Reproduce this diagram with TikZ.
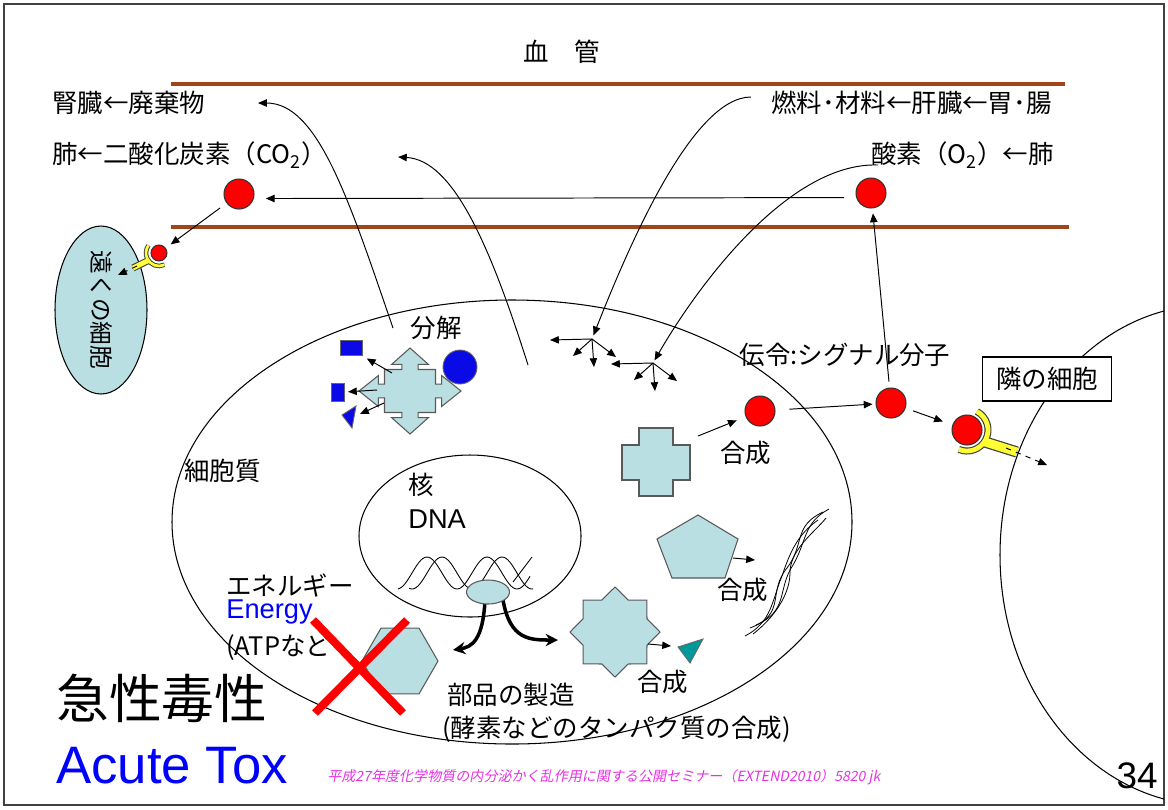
\documentclass[tikz,border=0pt]{standalone}
\usepackage{fontspec}
\setmainfont{Liberation Sans}
\newfontfamily\jp{Noto Sans CJK JP}
\newfontfamily\jpslant[FakeSlant=0.2]{Noto Sans CJK JP}
\usetikzlibrary{positioning,calc,arrows.meta,shapes.geometric}
\definecolor{vessel}{HTML}{A0441A}
\definecolor{cyto}{HTML}{B9DFE3}
\definecolor{molred}{HTML}{FF0000}
\definecolor{fragblue}{HTML}{0A0AE6}
\definecolor{enz}{HTML}{009999}
\definecolor{recep}{HTML}{FFFF33}
\definecolor{note}{HTML}{E632E6}

\begin{document}
\begin{tikzpicture}[x=0.02cm, y=-0.02cm,
  font=\jp\fontsize{14.5}{17}\selectfont,
  lbl/.style={inner sep=0pt},
  mol/.style={circle, draw=black!80, fill=molred, inner sep=0pt, minimum size=0.6cm, line width=0.6pt},
  arr/.style={-{Triangle[length=5pt,width=4.2pt]}, line width=0.55pt},
  part/.style={draw=black!65, fill=cyto, line width=0.6pt, inner sep=0pt},
  bits/.style={draw=black!60, fill=fragblue, line width=0.5pt, inner sep=0pt},
  wall/.style={draw=vessel, line width=2.4pt},
  bigarr/.style={-{Stealth[length=7pt,width=7pt]}, line width=2pt},
  killmark/.style={draw=molred, line width=4.6pt}]
  \useasboundingbox (0,0) rectangle (1168,809);
  \draw[black!75, line width=1.2pt] (4,4) rectangle (1164,805);

  % neighbour cell, cut at the slide edge
  \begin{scope}
    \clip (4,4) rectangle (1164,805);
    \draw[line width=0.6pt] (1210,555) ellipse [x radius=210, y radius=250];
  \end{scope}

  % blood vessel
  \draw[wall] (171,84) -- (1065,84);
  \draw[wall] (171,227) -- (1069,227);
  \node[lbl] (vesname) at (562,52) {血　管};
  \node[lbl, anchor=west] (kidney) at (52,103) {腎臓←廃棄物};
  \node[lbl, anchor=west] (lung) at (52,155) {肺←二酸化炭素（CO\textsubscript{2}）};
  \node[lbl, anchor=east] (fuel) at (1052,103) {燃料･材料←肝臓←胃･腸};
  \node[lbl, anchor=east] (oxy) at (1054,155) {酸素（O\textsubscript{2}）←肺};
  \node[mol] (co2) at (239,194) {};
  \node[mol] (o2) at (871,193) {};
  \draw[arr, shorten <=0.24cm, shorten >=0.24cm] (o2.197) -- (co2.-17);

  % far cell with its receptor
  \node[ellipse, draw, fill=cyto, line width=0.6pt, minimum width=1.84cm, minimum height=3.36cm, inner sep=0pt] (farcell) at (101,310) {};
  \node[lbl, rotate=-90, font=\jp\fontsize{13.5}{16}\selectfont] (farname) at (farcell) {遠くの細胞};
  \node[mol, minimum size=0.32cm] (farmol) at (159,253) {};
  \draw[arr, shorten <=0.16cm, shorten >=0.12cm] (co2) -- (farmol);
  \foreach \c/\ws/\wc in {black!75/4pt/2.6pt, recep/2.8pt/1.5pt} {
    \draw[\c, line width=\ws] ($(farmol)+(145:13)$) -- (133,268);
    \draw[\c, line width=\wc] ($(farmol)+(65:13)$) arc[start angle=65, end angle=216, radius=13];
  }
  \coordinate (farin) at (118,275);
  \draw[arr, dashed] (137,266) -- (farin);

  % the cell and its nucleus
  \draw[line width=0.6pt] (512,522) ellipse [x radius=340, y radius=222];
  \draw[line width=0.6pt] (470,536) ellipse [x radius=111, y radius=81];
  \node[lbl, anchor=west] (cytoname) at (184,471) {細胞質};
  \node[lbl, anchor=west] (nucname) at (408,485) {核};
  \node[lbl, anchor=west] (dnaname) at (408,519) {\rmfamily\fontsize{15.5}{18}\selectfont DNA};

  % breakdown
  \coordinate (decomp) at (410,391);
  \begin{scope}[shift={(decomp)}, xscale=51, yscale=43]
    \draw[part] (0,1) -- (0.36,0.62) -- (0.16,0.62) -- (0.16,0.5) -- (0.5,0.5) -- (0.5,0.16)
      -- (0.62,0.16) -- (0.62,0.36) -- (1,0) -- (0.62,-0.36) -- (0.62,-0.16) -- (0.5,-0.16)
      -- (0.5,-0.5) -- (0.16,-0.5) -- (0.16,-0.62) -- (0.36,-0.62) -- (0,-1) -- (-0.36,-0.62)
      -- (-0.16,-0.62) -- (-0.16,-0.5) -- (-0.5,-0.5) -- (-0.5,-0.16) -- (-0.62,-0.16)
      -- (-0.62,-0.36) -- (-1,0) -- (-0.62,0.36) -- (-0.62,0.16) -- (-0.5,0.16) -- (-0.5,0.5)
      -- (-0.16,0.5) -- (-0.16,0.62) -- (-0.36,0.62) -- cycle;
  \end{scope}
  \node[bits, circle, minimum size=0.68cm] (fragball) at (460,367) {};
  \node[bits, rectangle, minimum width=0.44cm, minimum height=0.3cm] (fragsq) at (351,348) {};
  \node[bits, rectangle, minimum width=0.26cm, minimum height=0.36cm] (fragbar) at (338,392) {};
  \draw[bits] (342,415) -- (356,406) -- (352,428) -- cycle;
  \coordinate (fragtri) at (354,412);
  \draw[arr, shorten >=0.1cm] ($(decomp)+(-18,-18)$) -- (fragsq.south east);
  \draw[arr, shorten >=0.06cm] ($(decomp)+(-33,-1)$) -- (fragbar.east);
  \draw[arr] ($(decomp)+(-26,12)$) -- ($(fragtri)+(6,2)$);
  \node[lbl] (splitname) at (436,328) {分解};

  % waste and CO2 leave through the vessel, fuel and O2 come in
  \coordinate (wasteto) at (258,103);
  \coordinate (co2to) at (398,157);
  \coordinate (spray1) at (592,339);
  \coordinate (spray2) at (653,363);
  \draw[arr] (393,328) .. controls (349,200) and (318,103) .. (wasteto);
  \draw[arr] (528,365) .. controls (490,245) and (453,160) .. (co2to);
  \draw[arr, shorten >=0.08cm] (751,97) .. controls (692,97) and (628,248) .. (spray1);
  \draw[arr, shorten >=0.06cm] (878,165) .. controls (790,162) and (700,282) .. (spray2);
  \foreach \s in {spray1, spray2}
    \foreach \dx/\dy in {-42/1, -19/17, 2/28, 24/18}
      \draw[arr] (\s) -- ++(\dx,\dy);

  % signal molecule
  \coordinate (plusc) at (656,462);
  \draw[part] ($(plusc)+(-17,-34)$) -- ++(34,0) -- ++(0,17) -- ++(17,0) -- ++(0,35) -- ++(-17,0)
    -- ++(0,16) -- ++(-34,0) -- ++(0,-16) -- ++(-17,0) -- ++(0,-35) -- ++(17,0) -- cycle;
  \node[mol] (made) at (760,411) {};
  \node[mol] (sig) at (891,403) {};
  \node[mol] (bound) at (967,430) {};
  \draw[arr, shorten >=0.19cm] ($(plusc)+(42,-26)$) -- (made);
  \node[lbl, anchor=west] (make1) at (720,453) {合成};
  \node[lbl] (signame) at (845,355) {伝令:シグナル分子};
  \draw[arr, shorten <=0.28cm, shorten >=0.06cm] (made) -- (sig);
  \draw[arr, shorten <=0.12cm, shorten >=0.1cm] (sig) -- (o2);
  \draw[arr, shorten <=0.16cm, shorten >=0.2cm] (sig) -- (bound);
  \foreach \c/\ws/\wc in {black!75/6.4pt/4pt, recep/5pt/2.7pt} {
    \draw[\c, line width=\ws] ($(bound)+(35:20)$) -- (1017,452);
    \draw[\c, line width=\wc] ($(bound)+(-62:21)$) arc[start angle=-62, end angle=113, radius=21];
  }
  \coordinate (nbrin) at (1047,465);
  \draw[arr, dashed] (1006,448) -- (nbrin);
  \node[draw, fill=white, line width=0.6pt, minimum width=2.58cm, minimum height=0.88cm] (nbr) at (1047,379) {隣の細胞};

  % structural protein
  \draw[part] (698,515) -- (738,539) -- (725,578) -- (672,578) -- (657,539) -- cycle;
  \draw[arr] (733,558) -- (755,560);
  \node[lbl, anchor=west] (make2) at (717,590) {合成};
  \foreach \dx/\dy/\m in {0/0/0, 5/-8/10, 8/-2/-9, 11/-11/6} {
    \begin{scope}[shift={(\dx,\dy)}]
      \draw[line width=0.45pt] (745,636) .. controls (772+\m,622) and (772-\m,600) .. (782,576)
        .. controls (790+\m,552) and (798-\m,534) .. (818,520);
    \end{scope}
  }

  % enzyme
  \node[part, star, star points=8, star point ratio=1.3, minimum size=1.8cm] (enzyme) at (615,632) {};
  \draw[fill=enz, draw=black!60, line width=0.5pt] (678,647) -- (703,639) -- (690,663) -- cycle;
  \coordinate (prod) at (690,649);
  \draw[arr] ($(enzyme)+(33,12)$) -- ($(prod)+(-19,-3)$);
  \node[lbl, anchor=west] (make3) at (637,682) {合成};

  % DNA and transcription
  \draw[line width=0.5pt] plot[domain=398:530, samples=70, smooth] (\x, {573-16*cos(6*(\x-427))});
  \draw[line width=0.5pt] plot[domain=409:533, samples=70, smooth] (\x, {573-16*cos(6*(\x-442))});
  \draw[line width=0.5pt] (513,582) -- (532,557);
  \coordinate (toatp) at (453,650);
  \coordinate (toparts) at (558,640);
  \draw[bigarr] (485,600) .. controls (483,640) and (472,647) .. (toatp);
  \draw[bigarr] (503,600) .. controls (510,640) and (530,640) .. (toparts);
  \node[part, ellipse, minimum width=0.86cm, minimum height=0.48cm] (pol) at (488,592) {};

  % energy
  \node[part, regular polygon, regular polygon sides=6, minimum size=1.52cm] (atp) at (400,661) {};
  \node[lbl, anchor=west] (enjp) at (226,585) {エネルギー};
  \node[lbl, anchor=west, text=blue] (enen) at (226,612) {\rmfamily\fontsize{15.5}{18}\selectfont Energy};
  \node[lbl, anchor=west] (atpname) at (226,648) {(ATPなど};
  \node[lbl, anchor=west] (partsname) at (447,695) {部品の製造};
  \node[lbl, anchor=west] (enzname) at (442,729) {(酵素などのタンパク質の合成)};
  \draw[killmark] (313,620) -- (403,713);
  \draw[killmark] (407,620) -- (315,713);

  % title and footer
  \node[lbl, anchor=west, font=\jp\fontsize{30}{34}\selectfont] (acutejp) at (56,698) {急性毒性};
  \node[lbl, anchor=base west, text=blue, font=\rmfamily\fontsize{30}{34}\selectfont] (acuteen) at (56,783) {Acute Tox};
  \node[lbl, anchor=west, text=note, font=\jpslant\fontsize{8}{10}\selectfont] (credit) at (327,777)
    {平成27年度化学物質の内分泌かく乱作用に関する公開セミナー（EXTEND2010）5820 jk};
  \node[lbl, anchor=base east, font=\rmfamily\fontsize{21}{24}\selectfont] (pageno) at (1158,788) {34};
\end{tikzpicture}
\end{document}
